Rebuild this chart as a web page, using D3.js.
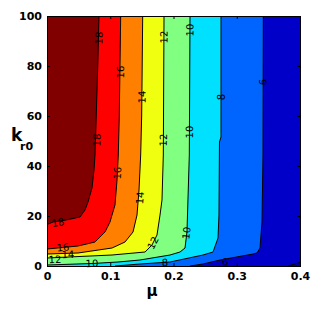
<!DOCTYPE html>
<html>
<head>
<meta charset="utf-8">
<script src="https://cdn.jsdelivr.net/npm/d3@7"></script>
<style>
  body { margin: 0; background: #fff; }
  svg text { font-family: "DejaVu Sans", "Liberation Sans", Arial, sans-serif; }
  .tick text { font-weight: bold; font-size: 11px; fill: #000; }
  .clab { font-size: 10px; fill: #000; }
</style>
</head>
<body>
<div id="chart"></div>
<script>
// contour levels and fill colours (lowest region first)
var levels = [4, 6, 8, 10, 12, 14, 16, 18];
var fillColors = ["#000096", "#0000c8", "#0064ff", "#00e0ff", "#80ff80", "#f0ff10", "#ff8000", "#ff0000", "#800000"];

var xTicks = [0, 0.1, 0.2, 0.3, 0.4];
var yTicks = [0, 20, 40, 60, 80, 100];

// contour lines, [mu, kr0]
var c4  = [[0.4, 1.4], [0.381, 0]];
var c6  = [[0.342, 100], [0.3415, 44.4], [0.3399, 17.6], [0.3368, 7.2], [0.332, 5.2], [0.3257, 4.8], [0.2735, 2.4], [0.2466, 0.8], [0.226, 0]];
var c8  = [[0.2751, 100], [0.2751, 51.6], [0.2727, 49.6], [0.2719, 20.4], [0.2704, 11.2], [0.2625, 5.6], [0.2466, 4.4], [0.1945, 1.6], [0.147, 0.8], [0.1075, 0]];
var c10 = [[0.2261, 100], [0.225, 44.4], [0.2213, 13.6], [0.2182, 7.2], [0.2103, 5.6], [0.1945, 4.4], [0.147, 2.4], [0.1123, 1.6], [0.0711, 1.0], [0, 0.4]];
var c12 = [[0.185, 100], [0.1839, 44.4], [0.1818, 26.4], [0.1787, 20.4], [0.1739, 12.4], [0.166, 8.4], [0.155, 5.6], [0.1028, 4.4], [0, 3.2]];
var c14 = [[0.1513, 100], [0.1497, 60], [0.1481, 44.4], [0.1455, 30.4], [0.1423, 20.4], [0.136, 13.6], [0.1233, 9.6], [0.1028, 7.2], [0.049, 5.2], [0, 4.8]];
var c16 = [[0.1165, 100], [0.1154, 80], [0.1143, 60], [0.1127, 44.4], [0.1107, 34.4], [0.1075, 24.4], [0.1028, 20.4], [0.0996, 17.6], [0.0917, 13.6], [0.0759, 9.6], [0.049, 8], [0, 6.8]];
var c18 = [[0.0822, 100], [0.0802, 79.6], [0.0786, 66.4], [0.0759, 44.4], [0.0743, 38.4], [0.0711, 31.2], [0.0648, 25.6], [0.0601, 22.4], [0.0522, 19.6], [0.03, 18.4], [0.0095, 17.6], [0, 16.6]];
var contourLines = [c4, c6, c8, c10, c12, c14, c16, c18];

// clabel spots [level, mu, kr0]
var labels = [
  [18, 0.0822, 91.2], [18, 0.079, 50.4], [18, 0.0174, 17.4],
  [16, 0.1162, 77.6], [16, 0.1115, 37.2], [16, 0.0253, 7.4],
  [14, 0.1502, 67.6], [14, 0.147, 27.2], [14, 0.0332, 4.6],
  [12, 0.185, 91.6], [12, 0.184, 50.4], [12, 0.1676, 9.2], [12, 0.0126, 2.6],
  [10, 0.2261, 94.4], [10, 0.2253, 53.6], [10, 0.2206, 13.2], [10, 0.0711, 1.0],
  [8, 0.2751, 67.6], [8, 0.1866, 1.4],
  [6, 0.3415, 73.6], [6, 0.2814, 1.6]
];

var W = 320, H = 310;
var x = d3.scaleLinear().domain([0, 0.4]).range([47, 300]);
var y = d3.scaleLinear().domain([0, 100]).range([266, 16]);

var svg = d3.select("#chart").append("svg").attr("width", W).attr("height", H);

// background = lowest region
svg.append("rect")
  .attr("x", x(0)).attr("y", y(100))
  .attr("width", x(0.4) - x(0)).attr("height", y(0) - y(100))
  .attr("fill", fillColors[0]);

// which edge of the box a point sits on
function edgeOf(p) {
  if (p[1] === 0) return 0;     // bottom
  if (p[0] === 0) return 1;     // left
  if (p[1] === 100) return 2;   // top
  return 3;                     // right
}
var corners = [[0, 0], [0, 100], [0.4, 100], [0.4, 0]];

// region >= level: contour then walk round the box clockwise back to start
function regionOf(line) {
  var pts = line.slice();
  var e = edgeOf(line[line.length - 1]), s = edgeOf(line[0]);
  while (e !== s) {
    pts.push(corners[e]);
    e = (e + 1) % 4;
  }
  return pts;
}

var lineGen = d3.line().x(function(d) { return x(d[0]); }).y(function(d) { return y(d[1]); });

svg.selectAll("path.region")
  .data(contourLines)
  .enter().append("path")
  .attr("class", "region")
  .attr("d", function(d) { return lineGen(regionOf(d)) + "Z"; })
  .attr("fill", function(d, i) { return fillColors[i + 1]; });

svg.selectAll("path.cline")
  .data(contourLines)
  .enter().append("path")
  .attr("class", "cline")
  .attr("d", lineGen)
  .attr("fill", "none")
  .attr("stroke", "#000")
  .attr("stroke-width", 1);

// label angle follows nearest segment of its contour
function angleAt(level, px, py) {
  var line = contourLines[levels.indexOf(level)];
  var best = Infinity, ang = 0;
  for (var i = 0; i < line.length - 1; i++) {
    var x1 = x(line[i][0]), y1 = y(line[i][1]), x2 = x(line[i + 1][0]), y2 = y(line[i + 1][1]);
    var dx = x2 - x1, dy = y2 - y1, L = dx * dx + dy * dy;
    var t = L ? Math.max(0, Math.min(1, ((px - x1) * dx + (py - y1) * dy) / L)) : 0;
    var qx = x1 + t * dx - px, qy = y1 + t * dy - py, dist = qx * qx + qy * qy;
    if (dist < best) { best = dist; ang = Math.atan2(dy, dx) * 180 / Math.PI; }
  }
  if (ang >= 90) ang -= 180;
  if (ang < -90) ang += 180;
  return ang;
}

svg.selectAll("text.clab")
  .data(labels)
  .enter().append("text")
  .attr("class", "clab")
  .attr("text-anchor", "middle")
  .attr("dy", "0.35em")
  .attr("transform", function(d) {
    var px = x(d[1]), py = y(d[2]);
    return "translate(" + px + "," + py + ") rotate(" + angleAt(d[0], px, py) + ")";
  })
  .text(function(d) { return d[0]; });

// axes, ticks pointing inward on all four sides
svg.append("g").attr("transform", "translate(0," + y(0) + ")")
  .call(d3.axisBottom(x).tickValues(xTicks).tickFormat(d3.format("")).tickSizeInner(-3).tickSizeOuter(0).tickPadding(6));
svg.append("g").attr("transform", "translate(" + x(0) + ",0)")
  .call(d3.axisLeft(y).tickValues(yTicks).tickSizeInner(-3).tickSizeOuter(0).tickPadding(5));
svg.append("g").attr("transform", "translate(0," + y(100) + ")")
  .call(d3.axisTop(x).tickValues(xTicks).tickFormat("").tickSizeInner(-3).tickSizeOuter(0));
svg.append("g").attr("transform", "translate(" + x(0.4) + ",0)")
  .call(d3.axisRight(y).tickValues(yTicks).tickFormat("").tickSizeInner(-3).tickSizeOuter(0));
svg.selectAll(".domain").remove();

svg.append("rect")
  .attr("x", x(0)).attr("y", y(100))
  .attr("width", x(0.4) - x(0)).attr("height", y(0) - y(100))
  .attr("fill", "none").attr("stroke", "#000").attr("stroke-width", 1)
  .attr("shape-rendering", "crispEdges");

// axis titles
svg.append("text").attr("x", 152).attr("y", 296).attr("text-anchor", "middle")
  .attr("font-weight", "bold").attr("font-size", 15).text("μ");
svg.append("text").attr("x", 11).attr("y", 141)
  .attr("font-weight", "bold").attr("font-size", 17).text("k");
svg.append("text").attr("x", 20).attr("y", 150)
  .attr("font-weight", "bold").attr("font-size", 11).text("r0");
</script>
</body>
</html>
